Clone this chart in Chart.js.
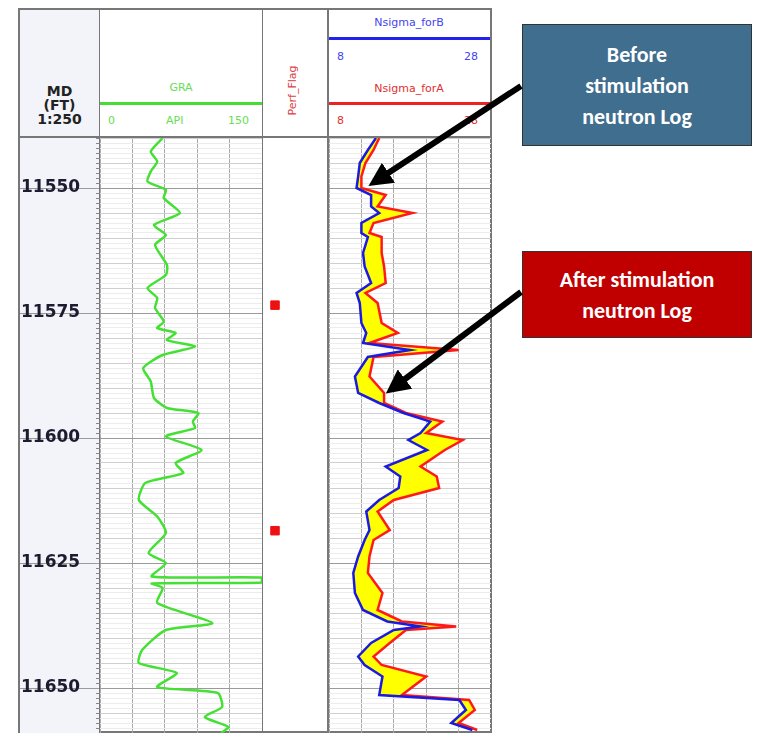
<!DOCTYPE html>
<html>
<head>
<meta charset="utf-8">
<script src="https://cdn.jsdelivr.net/npm/chart.js@4.4.0/dist/chart.umd.min.js"></script>
<style>
body { margin: 0; background: #fff; font-family: "DejaVu Sans", Verdana, sans-serif; }
#wrap { position: relative; width: 771px; height: 735px; overflow: hidden; }
.abs { position: absolute; }
.hd { font-size: 11px; text-align: center; }
.box { position: absolute; color: #fff; font-family: Calibri, "Liberation Sans", Arial, sans-serif; font-weight: bold; font-size: 22px; text-align: center; line-height: 31px; border: 1px solid #333; display: flex; align-items: center; justify-content: center; }
canvas { position: absolute; }
</style>
</head>
<body>
<div id="wrap">
  <div class="abs" style="left:18px;top:8px;width:474px;height:725px;border:2px solid #777;box-sizing:border-box;"></div>
  <div class="abs" style="left:20px;top:10px;width:79px;height:723px;background:#f3f4f9;"></div>
  <div class="abs" style="left:99px;top:8px;width:1px;height:725px;background:#777;"></div>
  <div class="abs" style="left:262px;top:8px;width:1px;height:725px;background:#777;"></div>
  <div class="abs" style="left:327px;top:8px;width:2px;height:725px;background:#777;"></div>
  <div class="abs" style="left:18px;top:136px;width:474px;height:2px;background:#777;"></div>

  <div class="abs" style="left:20px;top:84px;width:79px;text-align:center;font-weight:bold;font-size:14px;line-height:14px;color:#222;">MD<br>(FT)<br>1:250</div>

  <div class="abs hd" style="left:100px;top:81px;width:162px;color:#66dd55;">GRA</div>
  <div class="abs" style="left:100px;top:102px;width:162px;height:3px;background:#44dd33;"></div>
  <div class="abs hd" style="left:108px;top:114px;color:#66dd55;">0</div>
  <div class="abs hd" style="left:166px;top:114px;color:#66dd55;">API</div>
  <div class="abs hd" style="left:228px;top:114px;color:#66dd55;">150</div>

  <div class="abs hd" style="left:252px;top:84px;width:80px;color:#e04040;transform:rotate(-90deg);">Perf_Flag</div>

  <div class="abs hd" style="left:329px;top:16px;width:160px;color:#4444ee;">Nsigma_forB</div>
  <div class="abs" style="left:329px;top:37px;width:161px;height:3px;background:#2222ee;"></div>
  <div class="abs hd" style="left:337px;top:50px;color:#4444ee;">8</div>
  <div class="abs hd" style="left:464px;top:50px;color:#4444ee;">28</div>
  <div class="abs hd" style="left:329px;top:82px;width:160px;color:#e03030;">Nsigma_forA</div>
  <div class="abs" style="left:329px;top:102px;width:161px;height:3px;background:#ee2222;"></div>
  <div class="abs hd" style="left:337px;top:114px;color:#e03030;">8</div>
  <div class="abs hd" style="left:464px;top:114px;color:#e03030;">28</div>

  <canvas id="depthChart" style="left:20px;top:138px;"></canvas>
  <canvas id="grChart" style="left:100px;top:138px;"></canvas>
  <canvas id="perfChart" style="left:263px;top:138px;"></canvas>
  <canvas id="sigChart" style="left:329px;top:138px;"></canvas>

  <div class="box" style="left:522px;top:24px;width:228px;height:120px;background:#3f6e8e;">Before<br>stimulation<br>neutron Log</div>
  <div class="box" style="left:522px;top:251px;width:228px;height:85px;background:#c00000;">After stimulation<br>neutron Log</div>

  <svg class="abs" style="left:0;top:0;" width="771" height="735">
    <defs><marker id="ah" markerWidth="4" markerHeight="4" refX="2.5" refY="2" orient="auto"><path d="M0,0 L4,2 L0,4 Z" fill="#000"/></marker></defs>
    <line x1="521" y1="86" x2="376" y2="181" stroke="#000" stroke-width="6" marker-end="url(#ah)"/>
    <line x1="521" y1="292" x2="393" y2="388" stroke="#000" stroke-width="6" marker-end="url(#ah)"/>
  </svg>
</div>
<script>
const depthMin = 11540;
const depthMax = 11659;
const depthLabels = [11550, 11575, 11600, 11625, 11650];

// GR log (API)
const grDepth = [11540, 11542.7, 11544.7, 11546.7, 11548.7, 11550.4, 11552, 11555, 11557.4, 11559.4, 11561.4, 11565.4, 11567.4, 11570, 11572, 11574, 11576.7, 11578, 11579, 11580.4, 11581.7, 11583.4, 11586, 11588.7, 11592, 11594, 11595, 11596.7, 11598, 11599.7, 11602.4, 11605, 11607, 11609, 11612.4, 11615.7, 11619, 11623, 11625, 11627.7, 11627.9, 11628.9, 11629.1, 11630, 11633, 11637, 11638.4, 11642.4, 11645, 11647, 11649.8, 11651, 11653.8, 11655.8, 11657.8, 11659];
const grValue = [58, 47, 53, 47, 44, 61, 59, 74, 50, 61, 51, 62, 61, 44, 53, 51, 59, 53, 70, 62, 88, 58, 40, 47, 50, 62, 91, 86, 88, 61, 94, 70, 77, 42, 36, 53, 61, 45, 61, 48, 150, 150, 48, 58, 53, 104, 61, 39, 36, 71, 53, 109, 113, 97, 119, 112];

// Perforation flags
const perfDepth = [11572.8, 11619];

// Neutron sigma, before (B) and after (A) stimulation
const sigDepth = [11540, 11542.4, 11545, 11547.7, 11550, 11551.4, 11553.7, 11555, 11557, 11559, 11559.8, 11563, 11565.7, 11569, 11571, 11573, 11577, 11579, 11581, 11582.4, 11583.8, 11587.7, 11591, 11593, 11595, 11596.7, 11599, 11600.4, 11602.4, 11605.7, 11607.7, 11610, 11612.4, 11614.7, 11618.4, 11620.4, 11623.7, 11627, 11631, 11634.4, 11636.7, 11637.7, 11638.4, 11641, 11643.7, 11645.4, 11647.7, 11651.4, 11652.4, 11654.4, 11657, 11658.4];
const sigmaB = [13.8, 12.8, 11.8, 11.6, 11.4, 13.2, 13.2, 14.2, 12.0, 12.0, 12.8, 12.2, 12.4, 13.2, 11.4, 11.8, 12.0, 12.6, 12.2, 18.0, 12.8, 11.2, 11.6, 14.2, 17.2, 20.5, 19.3, 17.8, 20.1, 15.0, 16.8, 16.6, 14.2, 12.6, 13.0, 12.4, 11.6, 11.0, 11.2, 12.2, 15.2, 19.3, 16.0, 13.2, 11.6, 12.4, 14.6, 14.2, 24.1, 24.9, 23.1, 25.7];
const sigmaA = [14.2, 13.5, 12.5, 12.0, 12.0, 15.0, 14.0, 18.3, 13.5, 13.0, 14.5, 14.5, 14.8, 15.0, 12.5, 14.0, 14.5, 16.5, 13.0, 24.0, 13.5, 13.0, 14.8, 14.8, 17.5, 22.0, 20.0, 24.5, 22.3, 19.3, 21.3, 21.6, 16.0, 14.0, 15.5, 13.5, 13.0, 12.8, 14.6, 14.0, 17.0, 23.7, 17.5, 15.5, 13.5, 14.5, 20.0, 17.0, 25.3, 26.0, 24.0, 26.3];

const H = 595;

function pts(xs, ys) {
    return xs.map((v, i) => ({ x: v, y: ys[i] }));
}

function depthScale(showGrid) {
    return {
        type: 'linear', reverse: true, min: depthMin, max: depthMax,
        border: { display: false },
        ticks: { display: false, stepSize: 1 },
        grid: {
            display: showGrid, drawTicks: false, lineWidth: 1,
            color: (c) => {
                const v = c.tick.value;
                if (v % 25 === 0) return '#9a9a9a';
                if (v % 5 === 0) return '#cfcfcf';
                return '#ececec';
            },
        },
    };
}

function sizeCanvas(id, w) {
    const c = document.getElementById(id);
    c.width = w; c.height = H;
    c.style.width = w + 'px'; c.style.height = H + 'px';
    return c;
}

const baseOpts = {
    responsive: false, animation: false,
    layout: { padding: 0 },
    plugins: { legend: { display: false }, tooltip: { enabled: false } },
};

// depth labels and 1 ft tick marks, placed with the chart's y scale
const depthLabelPlugin = {
    id: 'depthLabels',
    afterDraw(chart) {
        const ctx = chart.ctx;
        const ys = chart.scales.y;
        const right = chart.chartArea.right;
        ctx.save();
        ctx.strokeStyle = '#888';
        ctx.lineWidth = 1;
        for (let d = Math.ceil(depthMin); d <= depthMax; d++) {
            const y = Math.round(ys.getPixelForValue(d)) + 0.5;
            ctx.beginPath();
            ctx.moveTo(right - 3, y);
            ctx.lineTo(right, y);
            ctx.stroke();
        }
        ctx.fillStyle = '#1c1c30';
        ctx.font = 'bold 17px "DejaVu Sans"';
        ctx.textBaseline = 'middle';
        depthLabels.forEach((d) => {
            const y = ys.getPixelForValue(d);
            ctx.strokeStyle = '#9a9a9a';
            ctx.beginPath();
            ctx.moveTo(0, Math.round(y) + 0.5);
            ctx.lineTo(right, Math.round(y) + 0.5);
            ctx.stroke();
            ctx.fillText(String(d), 1, y);
        });
        ctx.restore();
    },
};

// yellow fill between the after (A) and before (B) curves
const betweenFill = {
    id: 'betweenFill',
    beforeDatasetsDraw(chart) {
        const b = chart.getDatasetMeta(0).data;
        const a = chart.getDatasetMeta(1).data;
        const ctx = chart.ctx;
        const area = chart.chartArea;
        ctx.save();
        ctx.beginPath();
        ctx.rect(area.left, area.top, area.right - area.left, area.bottom - area.top);
        ctx.clip();
        ctx.beginPath();
        a.forEach((p, i) => (i ? ctx.lineTo(p.x, p.y) : ctx.moveTo(p.x, p.y)));
        for (let i = b.length - 1; i >= 0; i--) ctx.lineTo(b[i].x, b[i].y);
        ctx.closePath();
        ctx.fillStyle = '#ffff00';
        ctx.fill();
        ctx.restore();
    },
};

// depth track
new Chart(sizeCanvas('depthChart', 79), {
    type: 'scatter',
    data: { datasets: [{ data: [] }] },
    options: {
        ...baseOpts,
        scales: {
            x: { display: false, min: 0, max: 1 },
            y: { type: 'linear', reverse: true, min: depthMin, max: depthMax, display: false },
        },
    },
    plugins: [depthLabelPlugin],
});

// GR track
new Chart(sizeCanvas('grChart', 162), {
    type: 'scatter',
    data: {
        datasets: [{
            data: pts(grValue, grDepth), showLine: true, borderColor: '#44e033',
            borderWidth: 2.5, pointRadius: 0, tension: 0.2,
        }],
    },
    options: {
        ...baseOpts,
        scales: {
            x: { min: 0, max: 150, ticks: { display: false, stepSize: 30 }, border: { display: false }, grid: { drawTicks: false, color: '#aaa' } },
            y: depthScale(true),
        },
    },
});

// Perf flag track
new Chart(sizeCanvas('perfChart', 64), {
    type: 'scatter',
    data: {
        datasets: [{
            data: perfDepth.map((d) => ({ x: 0.1, y: d })),
            pointStyle: 'rect', pointRadius: 6, backgroundColor: '#ee1111', borderColor: '#ee1111',
        }],
    },
    options: {
        ...baseOpts,
        scales: { x: { display: false, min: 0, max: 1 }, y: { ...depthScale(false), display: false } },
    },
});

// Sigma track
new Chart(sizeCanvas('sigChart', 162), {
    type: 'scatter',
    data: {
        datasets: [
            {
                label: 'Nsigma_forB', data: pts(sigmaB, sigDepth), showLine: true,
                borderColor: '#1a1ae0', borderWidth: 2.5, pointRadius: 0, order: 0,
            },
            {
                label: 'Nsigma_forA', data: pts(sigmaA, sigDepth), showLine: true,
                borderColor: '#ff1a1a', borderWidth: 2.5, pointRadius: 0, order: 1,
            },
        ],
    },
    options: {
        ...baseOpts,
        scales: {
            x: { min: 8, max: 28, ticks: { display: false, stepSize: 4 }, border: { display: false }, grid: { drawTicks: false, color: '#aaa' } },
            y: depthScale(true),
        },
    },
    plugins: [betweenFill],
});
</script>
</body>
</html>
